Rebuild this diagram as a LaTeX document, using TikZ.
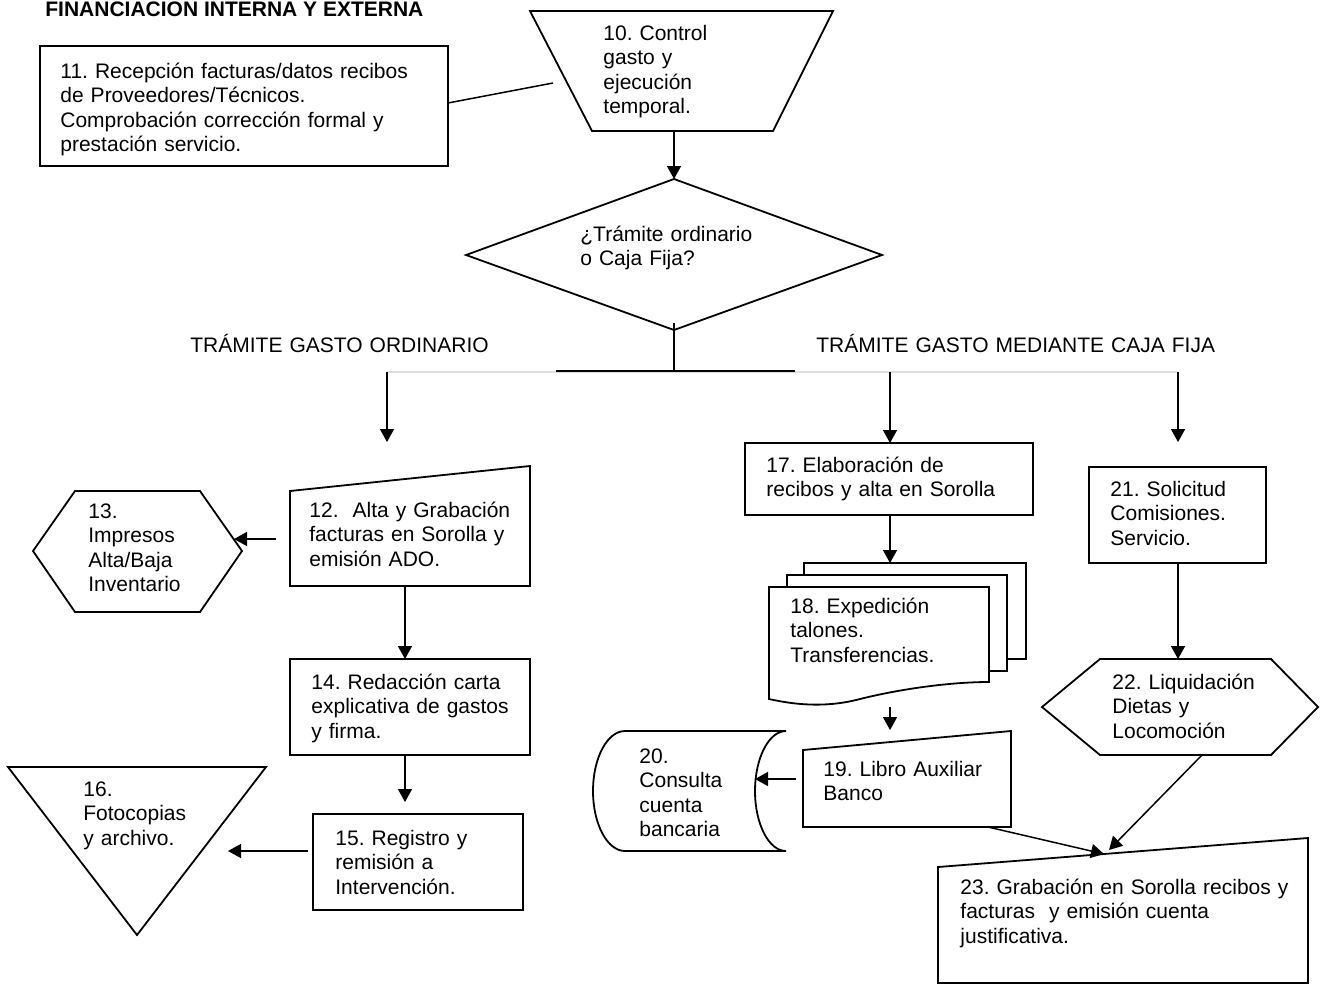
\documentclass[tikz,border=0pt]{standalone}
\usepackage{fontspec}
\setmainfont{Liberation Sans}
\usetikzlibrary{arrows.meta}
\frenchspacing
\begin{document}
\begin{tikzpicture}[x=0.5pt,y=-0.5pt,
  shp/.style={draw=black,line width=0.9pt,fill=white,line join=miter},
  conn/.style={draw=black,line width=0.75pt},
  arr/.style={conn,-{Triangle[length=6.5pt,width=7pt]}},
  txt/.style={font=\fontsize{10.5}{12.25}\selectfont,align=left,text width=200pt,inner sep=0pt,anchor=base west},
  ttl/.style={font=\fontsize{10.5}{12}\selectfont\bfseries,inner sep=0pt,anchor=base west}]
\fill[white] (0,0) rectangle (1320,985);
\useasboundingbox (0,0) rectangle (1320,985);

% ---------- title ----------
\node[ttl] (title) at (45,17) {FINANCIACION INTERNA Y EXTERNA};

% ---------- 11: reception ----------
\draw[shp] (40,46) rectangle (448,166);
\node[txt] (t11) at (60,78) {11. Recepción facturas/datos recibos\\de Proveedores/Técnicos.\\Comprobación corrección formal y\\prestación servicio.};
\coordinate (c11e) at (448,103);
\coordinate (c11end) at (553,83);

% ---------- 10: control (trapezoid) ----------
\draw[shp] (530,11) -- (833,11) -- (773,131) -- (592,131) -- cycle;
\node[txt] (t10) at (603,40) {10. Control\\gasto y\\ejecución\\temporal.};
\coordinate (c10s) at (674,131);

% ---------- decision ----------
\draw[shp] (674,179) -- (882,255) -- (674,330) -- (466,255) -- cycle;
\node[txt] (tdec) at (580,241) {¿Trámite ordinario\\o Caja Fija?};
\coordinate (cdecn) at (674,179);
\coordinate (cdecs) at (674,323);
\coordinate (cbar) at (674,371);
\coordinate (cbarL) at (556,371);
\coordinate (cbarR) at (795,371);

% branch labels
\node[txt] (lord) at (190,352) {TRÁMITE GASTO ORDINARIO};
\node[txt] (lcaja) at (816,352) {TRÁMITE GASTO MEDIANTE CAJA FIJA};

% branch rail
\coordinate (rA) at (387,372);
\coordinate (rB) at (890,372);
\coordinate (rC) at (1178,372);
\coordinate (rAe) at (387,442);
\coordinate (rCe) at (1178,442);

% ---------- 12: manual input ----------
\draw[shp] (290,491) -- (530,466) -- (530,586) -- (290,586) -- cycle;
\node[txt] (t12) at (309,517) {12.\ \ Alta y Grabación\\facturas en Sorolla y\\emisión ADO.};
\coordinate (c12w) at (276,539);
\coordinate (c12s) at (405,586);

% ---------- 13: hexagon ----------
\draw[shp] (33,551) -- (75,491) -- (200,491) -- (242,551) -- (200,612) -- (75,612) -- cycle;
\node[txt] (t13) at (88,518) {13.\\Impresos\\Alta/Baja\\Inventario};
\coordinate (c13e) at (234,539);

% ---------- 14 ----------
\draw[shp] (290,659) rectangle (530,755);
\node[txt] (t14) at (311,689) {14. Redacción carta\\explicativa de gastos\\y firma.};
\coordinate (c14n) at (405,659);
\coordinate (c14s) at (405,755);
\coordinate (c15top) at (405,802);

% ---------- 15 ----------
\draw[shp] (313,814) rectangle (523,910);
\node[txt] (t15) at (335,845) {15. Registro y\\remisión a\\Intervención.};
\coordinate (c15w) at (308,851);

% ---------- 16: triangle ----------
\draw[shp] (8,767) -- (266,767) -- (137,935) -- cycle;
\node[txt] (t16) at (83,796) {16.\\Fotocopias\\y archivo.};
\coordinate (c16e) at (228,851);

% ---------- 17 ----------
\draw[shp] (745,443) rectangle (1033,515);
\node[txt] (t17) at (766,472) {17. Elaboración de\\recibos y alta en Sorolla};
\coordinate (c17n) at (890,443);
\coordinate (c17s) at (890,515);

% ---------- 18: multiple documents ----------
\draw[shp] (804,563) rectangle (1026,659);
\draw[shp] (787,575) rectangle (1007,671);
\draw[shp] (769,587) -- (989,587) -- (989,682)
  .. controls (950,682) and (900,689) .. (860,699)
  .. controls (830,707) and (800,706) .. (769,699) -- cycle;
\node[txt] (t18) at (790,613) {18. Expedición\\talones.\\Transferencias.};
\coordinate (c18n) at (890,563);
\coordinate (c18s) at (890,707);
\coordinate (c19top) at (890,730);

% ---------- 19: manual input ----------
\draw[shp] (803,750) -- (1011,731) -- (1011,827) -- (803,827) -- cycle;
\node[txt] (t19) at (823,776) {19. Libro Auxiliar\\Banco};
\coordinate (c19w) at (796,779);
\coordinate (c19s) at (988,827);

% ---------- 20: stored data ----------
\draw[shp] (625,731) -- (786,731)
  .. controls (768.9,731) and (755,757.9) .. (755,791)
  .. controls (755,824.1) and (768.9,851) .. (786,851)
  -- (625,851)
  .. controls (607.3,851) and (593,824.1) .. (593,791)
  .. controls (593,757.9) and (607.3,731) .. (625,731) -- cycle;
\node[txt] (t20) at (639,763) {20.\\Consulta\\cuenta\\bancaria};
\coordinate (c20e) at (755,779);

% ---------- 21 ----------
\draw[shp] (1089,467) rectangle (1266,563);
\node[txt] (t21) at (1110,496) {21. Solicitud\\Comisiones.\\Servicio.};
\coordinate (c21n) at (1178,467);
\coordinate (c21s) at (1178,563);

% ---------- 22: hexagon ----------
\draw[shp] (1042,707) -- (1100,659) -- (1271,659) -- (1318,707) -- (1271,755) -- (1100,755) -- cycle;
\node[txt] (t22) at (1112,689) {22. Liquidación\\Dietas y\\Locomoción};
\coordinate (c22n) at (1178,659);
\coordinate (c22s) at (1202,755);

% ---------- 23: manual input ----------
\draw[shp] (938,867) -- (1308,838) -- (1308,983) -- (938,983) -- cycle;
\node[txt] (t23) at (960,894) {23. Grabación en Sorolla recibos y\\facturas\ \ y emisión cuenta\\justificativa.};
\coordinate (c23a) at (1104,854);
\coordinate (c23b) at (1109,850);

% ---------- connectors ----------
\draw[conn] (c11e) -- (c11end);
\draw[arr] (c10s) -- (cdecn);
\draw[conn] (cdecs) -- (cbar);
\draw[draw=black!12,line width=0.6pt] (rA) -- (rC);
\draw[draw=black,line width=1.3pt] (cbarL) -- (cbarR);
\draw[arr] (rA) -- (rAe);
\draw[arr] (rB) -- (c17n);
\draw[arr] (rC) -- (rCe);
\draw[arr] (c12w) -- (c13e);
\draw[arr] (c12s) -- (c14n);
\draw[arr] (c14s) -- (c15top);
\draw[arr] (c15w) -- (c16e);
\draw[arr] (c17s) -- (c18n);
\draw[arr] (c18s) -- (c19top);
\draw[arr] (c19w) -- (c20e);
\draw[arr] (c21s) -- (c22n);
\draw[arr] (c19s) -- (c23a);
\draw[arr] (c22s) -- (c23b);
\end{tikzpicture}
\end{document}
